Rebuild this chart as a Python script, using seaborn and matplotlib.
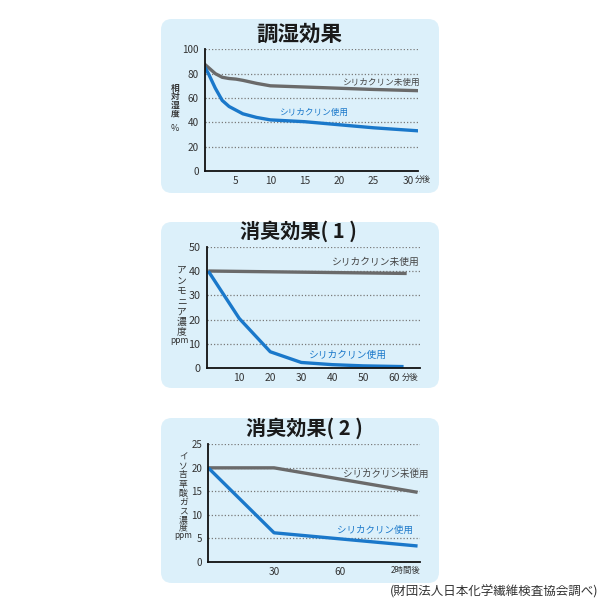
import numpy as np
import pandas as pd
import matplotlib
matplotlib.use("Agg")
import matplotlib.pyplot as plt
from matplotlib.patches import FancyBboxPatch
import seaborn as sns

# ---------------- data ----------------
# 調湿効果 (相対湿度 %, 分後)
hum_minutes = [0, 1, 2, 3, 4, 5, 6, 8, 10, 15, 20, 25, 31.5]
hum_unused = [90, 85, 80, 77, 76, 75.5, 74.5, 72, 70, 69, 68, 67, 66]
hum_used = [90, 80, 68, 58, 53, 50, 47, 44, 42, 40.5, 38, 35.5, 33]
hum_xticks = [5, 10, 15, 20, 25, 30]
hum_yticks = [0, 20, 40, 60, 80, 100]

# 消臭効果(1) アンモニア濃度 ppm
amm_minutes_unused = [0, 64]
amm_unused = [40, 39]
amm_minutes_used = [0, 10, 20, 30, 40, 50, 63]
amm_used = [40, 20.5, 6.8, 2.4, 1.5, 1.0, 0.7]
amm_xticks = [10, 20, 30, 40, 50, 60]
amm_yticks = [0, 10, 20, 30, 40, 50]

# 消臭効果(2) イソ吉草酸ガス濃度 ppm
iso_minutes = [0, 30, 120]
iso_unused = [20, 20, 14.8]
iso_used = [20, 6.2, 3.4]
iso_xticks = [15, 30, 45, 60, 90, 120]
iso_xticklabels = ["", "30", "", "60", "", ""]
iso_yticks = [0, 5, 10, 15, 20, 25]

label_unused = "シリカクリン未使用"
label_used = "シリカクリン使用"
titles = ["調湿効果", "消臭効果( 1 )", "消臭効果( 2 )"]
footer = "(財団法人日本化学繊維検査協会調べ)"

# ---------------- style ----------------
sns.set_theme(style="white")
FONT = ["Noto Sans CJK JP", "DejaVu Sans"]
plt.rcParams["font.family"] = FONT

GRAY = "#6a6a6a"
GRAY_TXT = "#444444"
BLUE = "#1a78ca"
BOX = "#dcf0fa"
TXT = "#333333"

W = H = 600
fig = plt.figure(figsize=(6, 6), dpi=100)
fig.patch.set_facecolor("white")


def fx(px):
    return px / W


def fy(py):
    return 1 - py / H


def box(x0, y0, x1, y1):
    p = FancyBboxPatch((fx(x0), fy(y1)), (x1 - x0) / W, (y1 - y0) / H,
                       boxstyle="round,pad=0,rounding_size=0.018",
                       transform=fig.transFigure, facecolor=BOX,
                       edgecolor="none", zorder=0)
    fig.add_artist(p)


box(161, 19, 439, 193)
box(161, 222, 439, 388)
box(161, 418, 439, 583)


def make_ax(left, right, top, bottom):
    ax = fig.add_axes([fx(left), fy(bottom), (right - left) / W, (bottom - top) / H])
    ax.set_facecolor("none")
    for s in ["top", "right"]:
        ax.spines[s].set_visible(False)
    for s in ["left", "bottom"]:
        ax.spines[s].set_color("#111111")
        ax.spines[s].set_linewidth(1.3)
    ax.yaxis.grid(True, linestyle=(0, (1.0, 1.6)), color="#7a7a7a", lw=0.9)
    ax.xaxis.grid(False)
    ax.tick_params(axis="y", length=0, pad=4.5, labelcolor=TXT)
    ax.tick_params(axis="x", direction="in", length=3.2, width=1.0,
                   color="#111111", pad=3.5, labelcolor=TXT)
    ax.set_xlabel("")
    ax.set_ylabel("")
    return ax


def vlabel(chars, x, ys, size, bold=False):
    for c, y in zip(chars, ys):
        fig.text(fx(x), fy(y), c, ha="center", va="center", fontsize=size,
                 color=TXT, fontweight="bold" if bold else "normal", family=FONT)


# ---------- panel 1 ----------
ax1 = make_ax(205, 418, 49.3, 171)
sns.lineplot(x=hum_minutes, y=hum_unused, ax=ax1, color=GRAY, lw=2.4,
             solid_capstyle="butt", sort=False)
sns.lineplot(x=hum_minutes, y=hum_used, ax=ax1, color=BLUE, lw=2.4,
             solid_capstyle="butt", sort=False)
ax1.set_xlim(0.5, 31.45)
ax1.set_ylim(0, 100)
ax1.set_xticks(hum_xticks)
ax1.set_xticklabels([str(v) for v in hum_xticks], fontsize=7.3)
ax1.set_yticks(hum_yticks)
ax1.set_yticklabels([str(v) for v in hum_yticks], fontsize=7.2)
fig.text(fx(414.5), fy(180), "分後", fontsize=5.8, color=TXT, ha="left", va="center")
fig.text(fx(299), fy(34.5), titles[0], fontsize=15.5, fontweight="bold",
         color="#1a1a1a", ha="center", va="center")
fig.text(fx(420), fy(82), label_unused, fontsize=6.2, color=GRAY_TXT, ha="right", va="center")
fig.text(fx(314), fy(112.7), label_used, fontsize=6.2, color=BLUE, ha="center", va="center")
vlabel(["相", "対", "湿", "度"], 175, [88.3, 96.9, 105.5, 114.1], 6.3, bold=True)
fig.text(fx(175), fy(128.3), "%", fontsize=6.5, color=TXT, ha="center", va="center")

# ---------- panel 2 ----------
ax2 = make_ax(206.7, 420, 246.7, 368.3)
sns.lineplot(x=amm_minutes_unused, y=amm_unused, ax=ax2, color=GRAY, lw=2.4,
             solid_capstyle="butt", sort=False)
sns.lineplot(x=amm_minutes_used, y=amm_used, ax=ax2, color=BLUE, lw=2.4,
             solid_capstyle="butt", sort=False)
ax2.set_xlim(-0.5, 68.3)
ax2.set_ylim(0, 50)
ax2.set_xticks(amm_xticks)
ax2.set_xticklabels([str(v) for v in amm_xticks], fontsize=7.4)
ax2.set_yticks(amm_yticks)
ax2.set_yticklabels([str(v) for v in amm_yticks], fontsize=7.8)
fig.text(fx(401.5), fy(377), "分後", fontsize=6.0, color=TXT, ha="left", va="center")
fig.text(fx(298), fy(231), titles[1], fontsize=14.5, fontweight="bold",
         color="#1a1a1a", ha="center", va="center")
fig.text(fx(420), fy(262.3), label_unused, fontsize=7, color=GRAY_TXT, ha="right", va="center")
fig.text(fx(347.5), fy(355), label_used, fontsize=7, color=BLUE, ha="center", va="center")
vlabel(["ア", "ン", "モ", "ニ", "ア", "濃", "度"], 181.5,
       [270, 280.5, 291, 301.5, 312, 322, 331.7], 7.0, bold=False)
fig.text(fx(179.5), fy(340.5), "ppm", fontsize=6.2, color=TXT, ha="center", va="center")

# ---------- panel 3 ----------
K = 35.45 / 60.0


def fwd(m):
    m = np.asarray(m, dtype=float)
    return np.where(m <= 60, m, 60 + (m - 60) * K)


def inv(d):
    d = np.asarray(d, dtype=float)
    return np.where(d <= 60, d, 60 + (d - 60) / K)


ax3 = make_ax(208.3, 419.5, 444.3, 562)
ax3.set_xscale("function", functions=(fwd, inv))
sns.lineplot(x=iso_minutes, y=iso_unused, ax=ax3, color=GRAY, lw=2.4,
             solid_capstyle="butt", sort=False)
sns.lineplot(x=iso_minutes, y=iso_used, ax=ax3, color=BLUE, lw=2.4,
             solid_capstyle="butt", sort=False)
ax3.set_xlim(0, 121.5)
ax3.set_ylim(0, 25)
ax3.set_xticks(iso_xticks)
ax3.set_xticklabels(iso_xticklabels, fontsize=7.3)
ax3.xaxis.set_minor_locator(matplotlib.ticker.NullLocator())
ax3.set_yticks(iso_yticks)
ax3.set_yticklabels([str(v) for v in iso_yticks], fontsize=7.0)
fig.text(fx(420.5), fy(571), "2時間後", fontsize=6.0, color=TXT, ha="right", va="center")
fig.text(fx(304), fy(428), titles[2], fontsize=14.5, fontweight="bold",
         color="#1a1a1a", ha="center", va="center")
fig.text(fx(428), fy(474), label_unused, fontsize=6.8, color=GRAY_TXT, ha="right", va="center")
fig.text(fx(374.5), fy(530.7), label_used, fontsize=6.8, color=BLUE, ha="center", va="center")
vlabel(["イ", "ソ", "吉", "草", "酸", "ガ", "ス", "濃", "度"], 183.3,
       [457, 466, 475, 484, 493, 502.3, 511, 519.5, 527.5], 6.3, bold=False)
fig.text(fx(183), fy(535.5), "ppm", fontsize=6.0, color=TXT, ha="center", va="center")

# ---------- footer ----------
fig.text(fx(598), fy(591.7), footer, fontsize=9.0, color=TXT, ha="right", va="center")

fig.savefig("out.png", dpi=100, facecolor="white")
